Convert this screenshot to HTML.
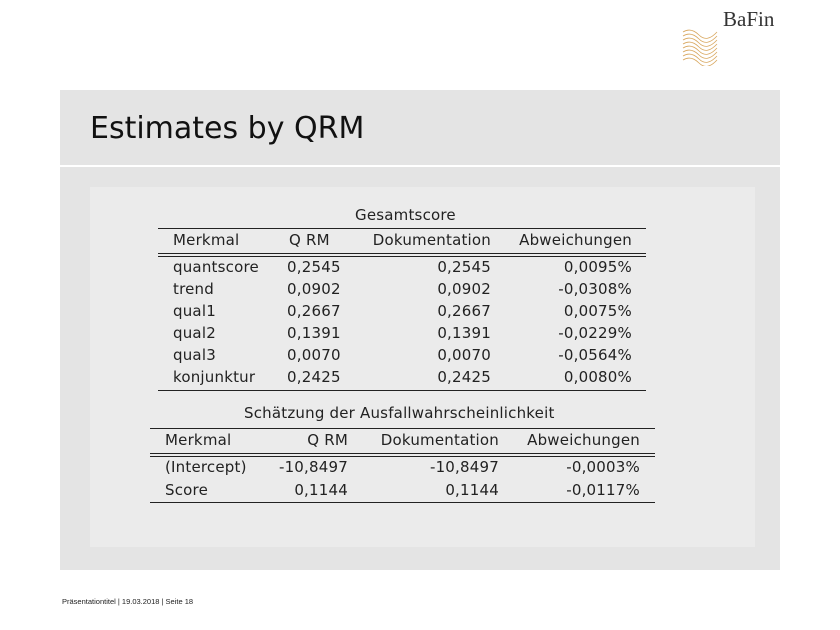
<!DOCTYPE html>
<html><head><meta charset="utf-8"><style>
body{margin:0;width:840px;height:630px;background:#fff;position:relative;overflow:hidden;font-family:"DejaVu Sans","Liberation Sans",sans-serif;color:#222}
.a{position:absolute;white-space:nowrap}
.t{font-size:15px;line-height:16px;letter-spacing:0.2px}
.r{text-align:right}
.ln{position:absolute;background:#222;height:1.3px}
</style></head><body>
<div class="a" style="left:723px;top:7px;font-family:'Liberation Serif',serif;font-size:21px;color:#333">BaFin</div>
<svg class="a" style="left:681px;top:28px" width="40" height="38">
<g fill="none" stroke="#d9a860" stroke-width="0.8">
<path d="M2 4 q8-5 16 3 t18 -3"/><path d="M2 8 q8-5 16 3 t18 -3"/><path d="M2 12 q8-5 16 3 t18 -3"/><path d="M2 16 q8-5 16 3 t18 -3"/><path d="M2 20 q8-5 16 3 t18 -3"/><path d="M2 24 q8-5 16 3 t18 -3"/><path d="M2 28 q8-5 16 3 t18 -3"/><path d="M2 32 q8-5 16 3 t18 -3"/></g></svg>
<div class="a" style="left:60px;top:90px;width:720px;height:480px;background:#e4e4e4"></div>
<div class="a" style="left:60px;top:165px;width:720px;height:2px;background:#fff"></div>
<div class="a" style="left:90px;top:111px;font-size:30px;color:#111">Estimates by QRM</div>
<div class="a" style="left:90px;top:187px;width:665px;height:360px;background:#ebebeb"></div>

<div class="a t" style="left:355px;top:207px">Gesamtscore</div>
<div class="ln" style="left:158px;top:228px;width:488px"></div>
<div class="a t" style="left:173px;top:232px">Merkmal</div>
<div class="a t" style="left:289px;top:232px">Q RM</div>
<div class="a t r" style="right:349px;top:232px">Dokumentation</div>
<div class="a t r" style="right:208px;top:232px">Abweichungen</div>
<div class="ln" style="left:158px;top:253px;width:488px"></div>
<div class="ln" style="left:158px;top:256px;width:488px"></div>
<div id="t1"></div>
<div class="ln" style="left:158px;top:390px;width:488px"></div>

<div class="a t" style="left:244px;top:405px">Schätzung der Ausfallwahrscheinlichkeit</div>
<div class="ln" style="left:150px;top:428px;width:505px"></div>
<div class="a t" style="left:165px;top:432px">Merkmal</div>
<div class="a t r" style="right:492px;top:432px">Q RM</div>
<div class="a t r" style="right:341px;top:432px">Dokumentation</div>
<div class="a t r" style="right:200px;top:432px">Abweichungen</div>
<div class="ln" style="left:150px;top:453px;width:505px"></div>
<div class="ln" style="left:150px;top:456px;width:505px"></div>
<div class="a t" style="left:165px;top:459px">(Intercept)</div>
<div class="a t r" style="right:492px;top:459px">-10,8497</div>
<div class="a t r" style="right:341px;top:459px">-10,8497</div>
<div class="a t r" style="right:200px;top:459px">-0,0003%</div>
<div class="a t" style="left:165px;top:482px">Score</div>
<div class="a t r" style="right:492px;top:482px">0,1144</div>
<div class="a t r" style="right:341px;top:482px">0,1144</div>
<div class="a t r" style="right:200px;top:482px">-0,0117%</div>
<div class="ln" style="left:150px;top:502px;width:505px"></div>

<div class="a" style="left:62px;top:597px;font-size:7.5px;font-family:'Liberation Sans',sans-serif">Präsentationtitel | 19.03.2018 | Seite 18</div>
<script>
const names=["quantscore","trend","qual1","qual2","qual3","konjunktur"];
const qrm=["0,2545","0,0902","0,2667","0,1391","0,0070","0,2425"];
const doku=["0,2545","0,0902","0,2667","0,1391","0,0070","0,2425"];
const abw=["0,0095%","-0,0308%","0,0075%","-0,0229%","-0,0564%","0,0080%"];
const host=document.getElementById('t1');
names.forEach((n,i)=>{
  const top=259+i*22;
  const cells=[[n,'left:173px'],[qrm[i],'left:287px'],[doku[i],'right:349px;text-align:right'],[abw[i],'right:208px;text-align:right']];
  cells.forEach((c,j)=>{
    const d=document.createElement('div');
    d.className='a t';
    d.style.cssText=c[1]+';top:'+top+'px';
    d.textContent=c[0];
    
    
    host.appendChild(d);
  });
});
</script>
</body></html>
